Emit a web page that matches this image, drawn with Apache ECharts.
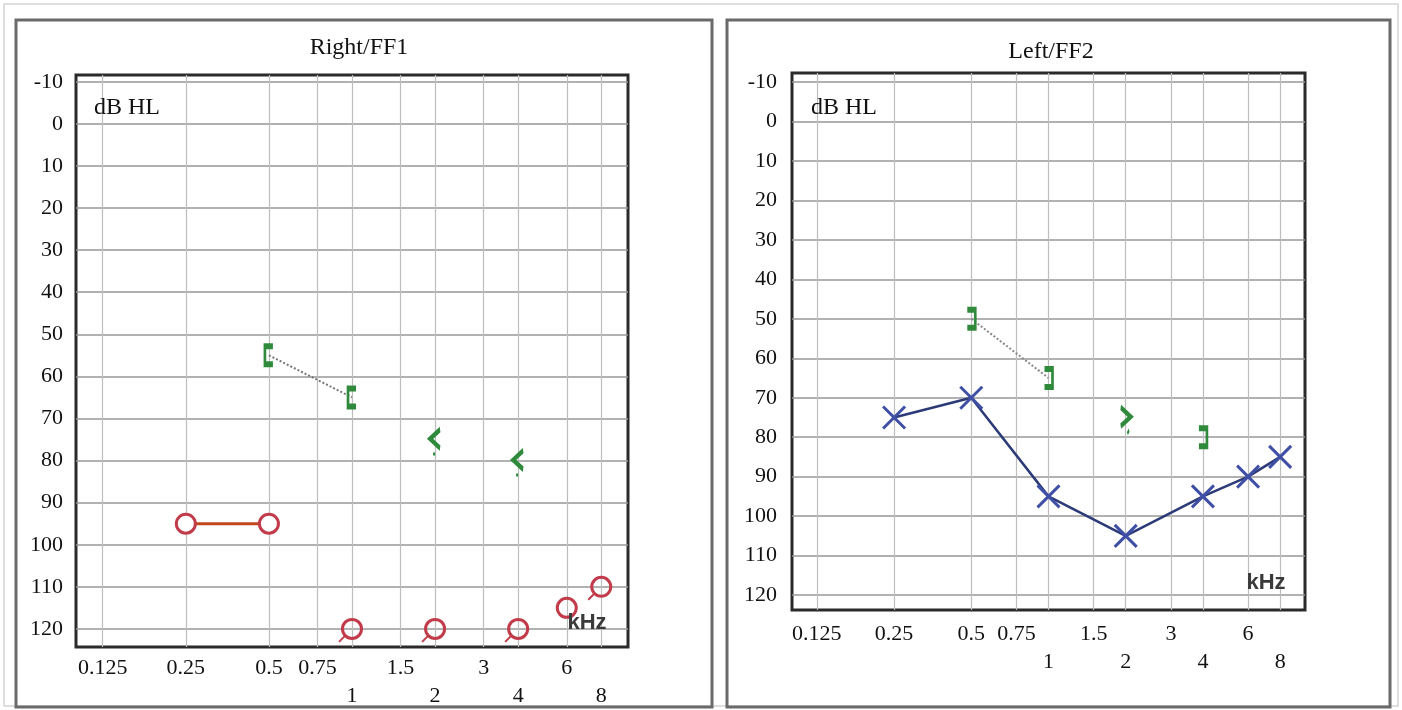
<!DOCTYPE html>
<html><head><meta charset="utf-8">
<script src="https://cdn.jsdelivr.net/npm/echarts@6/dist/echarts.min.js"></script>
<style>html,body{margin:0;padding:0;background:#fff;}#c{width:1402px;height:710px;}</style>
</head><body><div id="c"></div>
<script>
// ---- axis ticks ----
const xTicks = [0.125, 0.25, 0.5, 0.75, 1, 1.5, 2, 3, 4, 6, 8];
const xTickLabels = ['0.125', '0.25', '0.5', '0.75', '1', '1.5', '2', '3', '4', '6', '8'];
const xTickSecondRow = [false, false, false, false, true, false, true, false, true, false, true];
const yTicks = [-10, 0, 10, 20, 30, 40, 50, 60, 70, 80, 90, 100, 110, 120];

// ---- Right / FF1 ----
const rightAirFreq = [0.25, 0.5];
const rightAirDb = [95, 95];
const rightNoRespFreq = [1, 2, 4, 6, 8];
const rightNoRespDb = [120, 120, 120, 115, 110];
const rightArrowFreq = [1, 2, 4, 8];
const rightArrowDb = [120, 120, 120, 110];
const rightBoneFreq = [0.5, 1];
const rightBoneDb = [55, 65];
const rightBoneNrFreq = [2, 4];
const rightBoneNrDb = [75, 80];

// ---- Left / FF2 ----
const leftAirFreq = [0.25, 0.5, 1, 2, 4, 6, 8];
const leftAirDb = [75, 70, 95, 105, 95, 90, 85];
const leftBoneFreq = [0.5, 1];
const leftBoneDb = [50, 65];
const leftBoneSingleFreq = [4];
const leftBoneSingleDb = [80];
const leftBoneNrFreq = [2];
const leftBoneNrDb = [75];

const zip = (a, b) => a.map((v, i) => [v, b[i]]);

const SERIF = 'Liberation Serif';
const RED = '#c23b4a', RED_LINE = '#c4461c', GREEN = '#2f8a3c', BLUE = '#3f4fa6', BLUE_LINE = '#2c3a78';

function xFmt(v) {
  let best = 0, bd = Infinity;
  xTicks.forEach((t, i) => { const d = Math.abs(Math.log(t) - Math.log(v)); if (d < bd) { bd = d; best = i; } });
  return (xTickSecondRow[best] ? '\n' : '') + xTickLabels[best];
}

function makeX(gi, margin) {
  return {
    gridIndex: gi, type: 'log', logBase: 2, min: 0.1, max: 10,
    axisLine: { show: false },
    axisTick: { show: false, customValues: xTicks },
    axisLabel: { customValues: xTicks, formatter: xFmt, margin: margin, lineHeight: 28,
      fontSize: 22, fontFamily: SERIF, color: '#111' },
    splitLine: { show: true, lineStyle: { color: '#bdbdbd', width: 1.2 } },
    minorSplitLine: { show: false }, minorTick: { show: false }
  };
}
function makeY(gi, min, max, margin) {
  return {
    gridIndex: gi, type: 'value', inverse: true, min: min, max: max,
    axisLine: { show: false },
    axisTick: { show: false, customValues: yTicks },
    axisLabel: { customValues: yTicks, margin: margin, fontSize: 22, fontFamily: SERIF, color: '#111' },
    splitLine: { show: true, lineStyle: { color: '#979797', width: 1.6 } }
  };
}

const SYM_X = 'path://M0,0L20,20M20,0L0,20';
const SYM_LB = 'path://M8,0L0,0L0,20L8,20';
const SYM_RB = 'path://M0,0L8,0L8,20L0,20';
const SYM_LT = 'path://M10,0L0,9L10,18M4,22L4,25';
const SYM_GT = 'path://M0,0L10,9L0,18M7,22L8,25';
const SYM_TAIL = 'path://M10,0L0,10';

const stroke = (c, w) => ({ color: 'transparent', borderColor: c, borderWidth: w, opacity: 1 });

const option = {
  animation: false,
  backgroundColor: '#fff',
  grid: [
    { left: 76, top: 75, width: 552, height: 573, show: true, borderColor: '#2a2a2a', borderWidth: 3, backgroundColor: 'transparent' },
    { left: 792, top: 73, width: 513, height: 537, show: true, borderColor: '#2a2a2a', borderWidth: 3, backgroundColor: 'transparent' }
  ],
  xAxis: [makeX(0, 7), makeX(1, 10)],
  yAxis: [makeY(0, -11.6, 124.3, 13), makeY(1, -12.3, 123.8, 15)],
  series: [
    // Right / FF1
    { type: 'line', xAxisIndex: 0, yAxisIndex: 0, data: zip(rightBoneFreq, rightBoneDb), symbol: 'none',
      lineStyle: { type: 'dotted', color: '#777', width: 2 }, z: 3 },
    { type: 'scatter', xAxisIndex: 0, yAxisIndex: 0, data: zip(rightBoneFreq, rightBoneDb), symbol: SYM_LB,
      symbolSize: [8, 18], itemStyle: stroke(GREEN, 4), z: 4 },
    { type: 'scatter', xAxisIndex: 0, yAxisIndex: 0, data: zip(rightBoneNrFreq, rightBoneNrDb), symbol: SYM_LT,
      symbolSize: [10, 26], symbolOffset: [0, 3], itemStyle: stroke(GREEN, 3.5), z: 4 },
    { type: 'line', xAxisIndex: 0, yAxisIndex: 0, data: zip(rightAirFreq, rightAirDb), symbol: 'circle', symbolSize: 19,
      lineStyle: { color: RED_LINE, width: 3 }, itemStyle: { color: '#fff', borderColor: RED, borderWidth: 3 }, z: 5 },
    { type: 'scatter', xAxisIndex: 0, yAxisIndex: 0, data: zip(rightNoRespFreq, rightNoRespDb), symbol: 'circle', symbolSize: 19,
      itemStyle: stroke(RED, 3), z: 5 },
    { type: 'scatter', xAxisIndex: 0, yAxisIndex: 0, data: zip(rightArrowFreq, rightArrowDb), symbol: SYM_TAIL, symbolSize: 6,
      symbolOffset: [-10, 10], itemStyle: stroke(RED, 2), z: 5 },
    // Left / FF2
    { type: 'line', xAxisIndex: 1, yAxisIndex: 1, data: zip(leftBoneFreq, leftBoneDb), symbol: 'none',
      lineStyle: { type: 'dotted', color: '#888', width: 2 }, z: 3 },
    { type: 'scatter', xAxisIndex: 1, yAxisIndex: 1, data: zip(leftBoneFreq, leftBoneDb).concat(zip(leftBoneSingleFreq, leftBoneSingleDb)),
      symbol: SYM_RB, symbolSize: [8, 18], itemStyle: stroke(GREEN, 4), z: 4 },
    { type: 'scatter', xAxisIndex: 1, yAxisIndex: 1, data: zip(leftBoneNrFreq, leftBoneNrDb), symbol: SYM_GT,
      symbolSize: [10, 26], symbolOffset: [0, 3], itemStyle: stroke(GREEN, 3.5), z: 4 },
    { type: 'line', xAxisIndex: 1, yAxisIndex: 1, data: zip(leftAirFreq, leftAirDb), symbol: SYM_X, symbolSize: 22,
      lineStyle: { color: BLUE_LINE, width: 2.5 }, itemStyle: stroke(BLUE, 3), z: 5 }
  ],
  graphic: [
    { type: 'rect', shape: { x: 4, y: 4, width: 1394, height: 702 }, style: { fill: 'none', stroke: '#d4d4d4', lineWidth: 1.5 }, z: 0 },
    { type: 'rect', shape: { x: 16, y: 20, width: 696, height: 687 }, style: { fill: 'none', stroke: '#6a6a6a', lineWidth: 3 }, z: 0 },
    { type: 'rect', shape: { x: 727, y: 20, width: 663, height: 687 }, style: { fill: 'none', stroke: '#6a6a6a', lineWidth: 3 }, z: 0 },
    { type: 'text', x: 359, y: 48, style: { text: 'Right/FF1', font: '24px "Liberation Serif"', fill: '#111', align: 'center', verticalAlign: 'middle' }, z: 10 },
    { type: 'text', x: 1051, y: 52, style: { text: 'Left/FF2', font: '24px "Liberation Serif"', fill: '#111', align: 'center', verticalAlign: 'middle' }, z: 10 },
    { type: 'text', x: 94, y: 108, style: { text: 'dB HL', font: '24px "Liberation Serif"', fill: '#111', align: 'left', verticalAlign: 'middle' }, z: 10 },
    { type: 'text', x: 811, y: 108, style: { text: 'dB HL', font: '24px "Liberation Serif"', fill: '#111', align: 'left', verticalAlign: 'middle' }, z: 10 },
    { type: 'text', x: 587, y: 623, style: { text: 'kHz', font: 'bold 22px "Liberation Sans"', fill: '#3a3a3a', align: 'center', verticalAlign: 'middle' }, z: 10 },
    { type: 'text', x: 1266, y: 583, style: { text: 'kHz', font: 'bold 22px "Liberation Sans"', fill: '#3a3a3a', align: 'center', verticalAlign: 'middle' }, z: 10 }
  ]
};

const chart = echarts.init(document.getElementById('c'), null, { renderer: 'canvas' });
chart.setOption(option);
</script>
</body></html>
